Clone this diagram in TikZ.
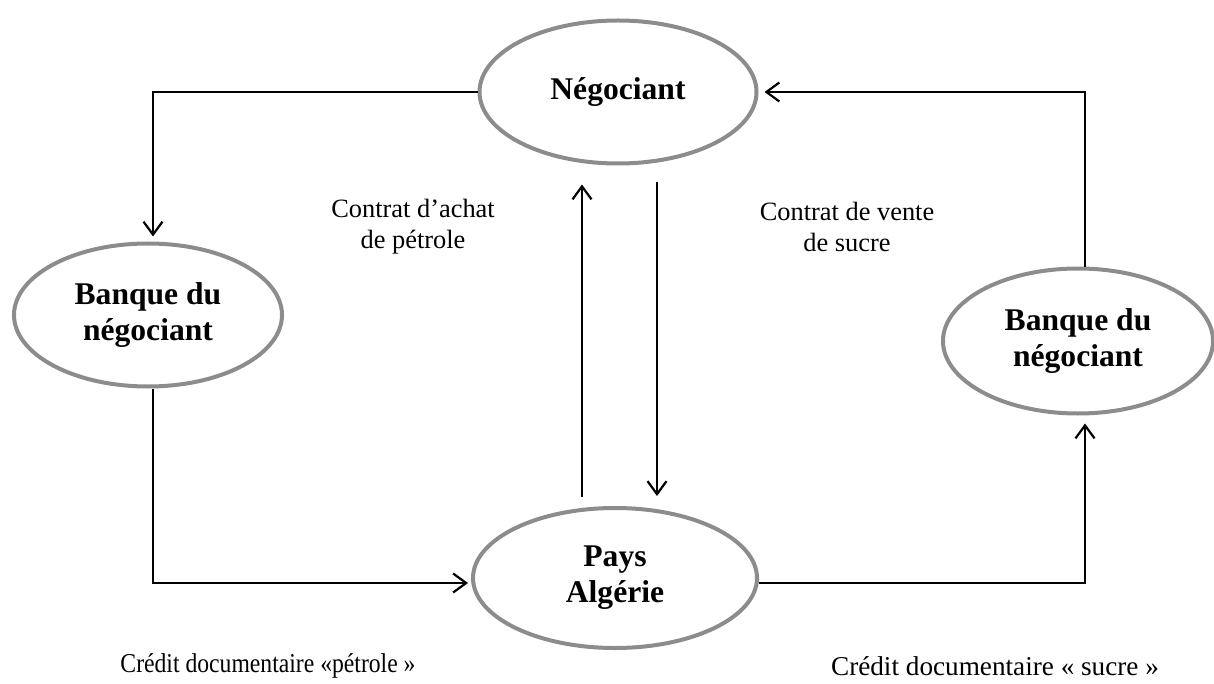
\documentclass[tikz,border=0pt]{standalone}
\usepackage{fontspec}
\usepackage{graphicx}
\setmainfont{Liberation Serif}
\usetikzlibrary{shapes.geometric,arrows.meta,calc}
\definecolor{ellgray}{RGB}{140,140,140}
\begin{document}
\begin{tikzpicture}[x=0.5pt,y=-0.5pt,
  party/.style={ellipse, draw=ellgray, line width=2pt, inner sep=0pt, align=center,
    font=\fontsize{15.8}{18}\selectfont\bfseries},
  flow/.style={line width=1.2pt, -{Straight Barb[length=6.5pt,width=9.5pt,line width=1.1pt]}},
  note/.style={align=center, inner sep=0pt, font=\fontsize{13.2}{15.5}\selectfont},
  credit/.style={inner sep=0pt, font=\fontsize{13.6}{16}\selectfont}
]
\useasboundingbox (0,0) rectangle (1214,684);

% parties
\node[party, minimum width=138.5pt, minimum height=71.5pt] (neg)  at (618,92)  {Négociant};
\node[party, minimum width=134pt,   minimum height=71.5pt] (bl)   at (148,315) {Banque du\\négociant};
\node[party, minimum width=135pt,   minimum height=72.5pt] (br)   at (1078,341) {Banque du\\négociant};
\node[party, minimum width=142pt,   minimum height=70pt]   (pays) at (615,578) {Pays\\Algérie};

% outer loop
\draw[flow, shorten >=2.5pt] (neg.west) -| ($(bl.north)+(5,0)$);
\draw[flow, shorten >=1.5pt] ($(bl.south)+(5,0)$) |- ($(pays.west)+(0,5)$);
\draw[flow, shorten >=4pt]   ($(pays.east)+(0,5)$) -| ($(br.south)+(7,0)$);
\draw[flow, shorten >=3pt]   ($(br.north)+(7,0)$) |- (neg.east);

% contracts between the trader and the country
\coordinate (upx) at (582,0);
\coordinate (dnx) at (657,0);
\draw[flow] ($(pays.north -| upx)+(0,-9)$) -- ($(neg.south -| upx)+(0,19)$);
\draw[flow] ($(neg.south -| dnx)+(0,17)$) -- ($(pays.north -| dnx)+(0,-10)$);

% labels
\node[note] (achat) at (413,227) {Contrat d’achat\\de pétrole};
\node[note] (vente) at (847,227) {Contrat de vente\\de sucre};
\node[credit] (cdp) at (268,666) {\scalebox{0.87}[1]{Crédit documentaire «pétrole »}};
\node[credit] (cds) at (995,666) {Crédit documentaire « sucre »};
\end{tikzpicture}
\end{document}
